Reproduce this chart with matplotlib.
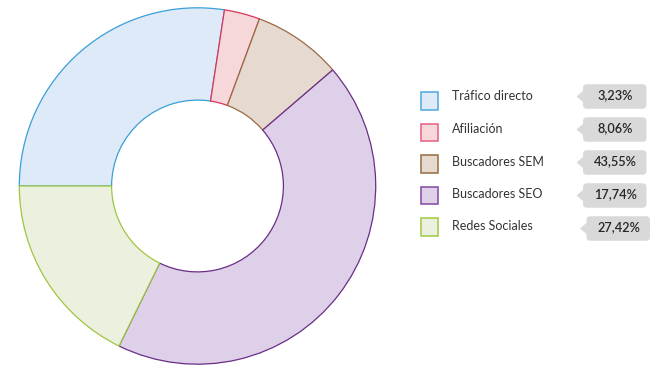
import matplotlib
matplotlib.use("Agg")
import matplotlib.pyplot as plt
from matplotlib.patches import Rectangle, FancyBboxPatch, Polygon

# ---- data ----
labels = ["Tráfico directo", "Afiliación", "Buscadores SEM", "Buscadores SEO", "Redes Sociales"]
slice_values = [27.42, 3.23, 8.06, 43.55, 17.74]
pct_labels = ["3,23%", "8,06%", "43,55%", "17,74%", "27,42%"]

fills = ["#deeaf8", "#f6d7da", "#e6dad0", "#ddd0e8", "#ebf1de"]
edges = ["#3a9fd8", "#d9345a", "#9a6a45", "#6b2e88", "#9dc63f"]
legend_edges = ["#5aaee0", "#e8688a", "#a0754e", "#8a55a8", "#a6cc50"]

plt.rcParams['font.family'] = ['Lato', 'DejaVu Sans']

W, H = 670, 373
fig = plt.figure(figsize=(W / 100, H / 100), dpi=100)
fig.patch.set_facecolor("white")

# ---- donut ----
cx, cy, R = 197.5, 186.0, 178.2
ax = fig.add_axes([(cx - R) / W, (H - cy - R) / H, 2 * R / W, 2 * R / H])
wedges, _ = ax.pie(slice_values, colors=fills, startangle=180, counterclock=False,
                   radius=1.0, wedgeprops=dict(width=0.518, linewidth=0.9))
for w, ec in zip(wedges, edges):
    w.set_edgecolor(ec)
ax.set_xlim(-1, 1)
ax.set_ylim(-1, 1)
ax.set_aspect("equal")
ax.axis("off")

# ---- legend overlay ----
lg = fig.add_axes([0, 0, 1, 1])
lg.set_xlim(0, W)
lg.set_ylim(H, 0)
lg.axis("off")

sq_y = [100.5, 132.0, 163.5, 195.0, 226.5]
txt_y = [96.5, 129.0, 161.5, 194.0, 226.5]
box_y = [96.5, 129.5, 162.5, 195.5, 228.5]
box_x = [583, 583, 583, 583, 586.5]
box_w, box_h = 63.5, 24.5

for i, lab in enumerate(labels):
    lg.add_patch(Rectangle((420.5, sq_y[i] - 8.5), 17.5, 17.5, facecolor=fills[i],
                           edgecolor=legend_edges[i], linewidth=1.2))
    lg.text(452, txt_y[i], lab, fontsize=9, color="#333333", va="center", ha="left")
    bx = box_x[i]
    by = box_y[i]
    lg.add_patch(FancyBboxPatch((bx, by - box_h / 2), box_w, box_h,
                                boxstyle="round,pad=0,rounding_size=4",
                                facecolor="#d9d9d9", edgecolor="none"))
    lg.add_patch(Polygon([(bx + 0.5, by - 6), (bx - 6.5, by), (bx + 0.5, by + 6)],
                         closed=True, facecolor="#d9d9d9", edgecolor="none"))
    lg.text(bx + box_w / 2 + 0.5, by - 1, pct_labels[i], fontsize=9.2, color="#262626",
            va="center", ha="center", fontweight="semibold")

fig.savefig("out.png", dpi=100, facecolor="white")
